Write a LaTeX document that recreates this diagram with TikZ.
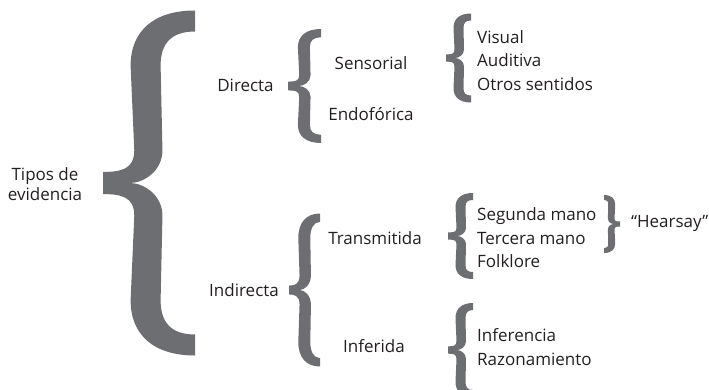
\documentclass[tikz,border=0pt]{standalone}
\usepackage{fontspec}
\setmainfont{Open Sans}
\definecolor{bracecol}{RGB}{109,110,113}
\definecolor{textcol}{RGB}{35,31,32}
\newcommand\brc[6]{%
\fill[bracecol]
 ({#1+#6*#4},{#2-#3})
 .. controls ({#1+#6*0.55*#4},{#2-#3}) and ({#1+#6*0.3*#4},{#2-0.88*#3}) .. ({#1+#6*0.3*#4},{#2-0.68*#3})
 -- ({#1+#6*0.34*#4},{#2-0.19*#3})
 .. controls ({#1+#6*0.34*#4},{#2-0.08*#3}) and ({#1+#6*0.2*#4},{#2-0.37*#5}) .. ({#1},{#2-0.37*#5})
 -- ({#1},{#2+0.37*#5})
 .. controls ({#1+#6*0.2*#4},{#2+0.37*#5}) and ({#1+#6*0.34*#4},{#2+0.08*#3}) .. ({#1+#6*0.34*#4},{#2+0.19*#3})
 -- ({#1+#6*0.3*#4},{#2+0.68*#3})
 .. controls ({#1+#6*0.3*#4},{#2+0.88*#3}) and ({#1+#6*0.55*#4},{#2+#3}) .. ({#1+#6*#4},{#2+#3})
 -- ({#1+#6*#4},{#2+#3-0.7*#5})
 .. controls ({#1+#6*(0.4*#4+#5)},{#2+#3-0.7*#5}) and ({#1+#6*(0.3*#4+#5)},{#2+0.8*#3}) .. ({#1+#6*(0.3*#4+#5)},{#2+0.68*#3})
 -- ({#1+#6*(0.32*#4+#5)},{#2+0.19*#3})
 .. controls ({#1+#6*(0.32*#4+#5)},{#2+0.07*#3}) and ({#1+#6*(0.9*#5+0.15*#4)},{#2}) .. ({#1+#6*0.9*#5},{#2})
 .. controls ({#1+#6*(0.9*#5+0.15*#4)},{#2}) and ({#1+#6*(0.32*#4+#5)},{#2-0.07*#3}) .. ({#1+#6*(0.32*#4+#5)},{#2-0.19*#3})
 -- ({#1+#6*(0.3*#4+#5)},{#2-0.68*#3})
 .. controls ({#1+#6*(0.3*#4+#5)},{#2-0.8*#3}) and ({#1+#6*(0.4*#4+#5)},{#2-#3+0.7*#5}) .. ({#1+#6*#4},{#2-#3+0.7*#5})
 -- cycle;}
\begin{document}
\begin{tikzpicture}[x=1pt,y=-1pt,
  txt/.style={font=\fontsize{17}{20}\selectfont, text=textcol, inner sep=0pt},
  mid/.style={txt, anchor=base},
  lft/.style={txt, anchor=base west}]
\useasboundingbox (0,0) rectangle (709,389);
\clip (0,0) rectangle (709,389);
% braces
\brc{103}{183}{172.5}{92}{30}{1}
\brc{288}{86}{57}{33}{12}{1}
\brc{446}{58}{44.5}{25}{10}{1}
\brc{289}{290}{76.5}{31}{12}{1}
\brc{448}{236}{43}{25}{10}{1}
\brc{448}{350}{47}{25}{10}{1}
\brc{620}{224}{29}{16}{7}{-1}
% texts
\node[mid] (tipos1) at (45,180) {Tipos de};
\node[mid] (tipos2) at (45,200) {evidencia};
\node[mid] (directa) at (245.5,91.7) {Directa};
\node[mid] (sensorial) at (371,69) {Sensorial};
\node[mid] (endoforica) at (371,120) {Endofórica};
\node[lft] (visual) at (477,43.3) {Visual};
\node[lft] (auditiva) at (477,66.7) {Auditiva};
\node[lft] (otros) at (477,90) {Otros sentidos};
\node[mid] (indirecta) at (244,296) {Indirecta};
\node[mid] (transmitida) at (375,244) {Transmitida};
\node[mid] (inferida) at (374,352.7) {Inferida};
\node[lft] (segunda) at (477,220.7) {Segunda mano};
\node[lft] (tercera) at (477,244) {Tercera mano};
\node[lft] (folklore) at (477,267) {Folklore};
\node[lft] (inferencia) at (477,341.7) {Inferencia};
\node[lft] (razonamiento) at (477,365) {Razonamiento};
\node[lft] (hearsay) at (631,227) {“Hearsay”};
\end{tikzpicture}
\end{document}
